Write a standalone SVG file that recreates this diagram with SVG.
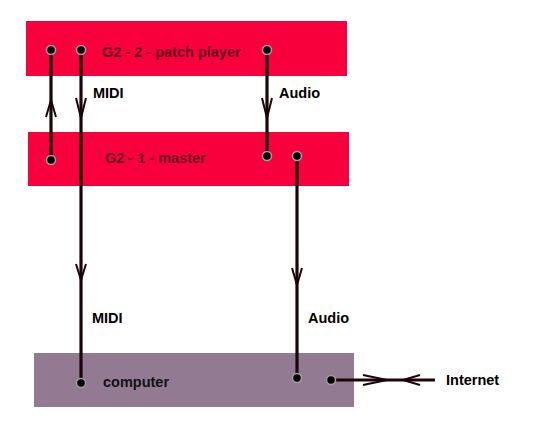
<svg xmlns="http://www.w3.org/2000/svg" width="538" height="435" viewBox="0 0 538 435">
<style>
.lbl{font-family:"Liberation Sans",Arial,sans-serif;font-weight:bold;font-size:14.5px;fill:#000}
.dev{font-family:"Liberation Sans",Arial,sans-serif;font-weight:bold;font-size:14.5px;fill:#6a0a1c}
.ln{stroke:#1a0508;stroke-width:3.2;fill:none}
.chev{stroke:#1a0508;stroke-width:2;fill:none;stroke-linejoin:miter}
.dot{fill:#000;stroke:#a0a0a0;stroke-width:1.5}
</style>
<rect width="538" height="435" fill="#fff"/>
<g id="g2-2"><rect x="26" y="21" width="321" height="55" fill="#f8003c"/><text class="dev" x="102" y="57">G2 - 2 - patch player</text></g>
<g id="g2-1"><rect x="28" y="132" width="321" height="54" fill="#f8003c"/><text class="dev" x="105" y="163">G2 - 1 - master</text></g>
<g id="computer"><rect x="34" y="353" width="320" height="54" fill="#937a93"/><text class="lbl" x="103" y="387" style="fill:#111">computer</text></g>
<g id="internet"><text class="lbl" x="446" y="385">Internet</text></g>
<g id="connectors">
<line class="ln" x1="51" y1="50" x2="51" y2="160"/>
<path class="chev" d="M46 117 L51 100 L56 117"/>
<line class="ln" x1="81" y1="50" x2="81" y2="383"/>
<path class="chev" d="M76 98 L81 118 L86 98"/>
<path class="chev" d="M76 264 L81 280 L86 264"/>
<line class="ln" x1="267" y1="50" x2="267" y2="156"/>
<path class="chev" d="M262 98 L267 118 L272 98"/>
<line class="ln" x1="297" y1="156" x2="297" y2="378"/>
<path class="chev" d="M292 268 L297 285 L302 268"/>
<line class="ln" x1="331" y1="380" x2="435" y2="380"/>
<path class="chev" d="M363 375 L387 380 L363 385"/>
<path class="chev" d="M420 375 L403 380 L420 385"/>
<text class="lbl" x="93" y="98">MIDI</text>
<text class="lbl" x="279" y="98">Audio</text>
<text class="lbl" x="92" y="323">MIDI</text>
<text class="lbl" x="308" y="323">Audio</text>
<circle class="dot" cx="51" cy="50" r="4.5"/>
<circle class="dot" cx="81" cy="50" r="4.5"/>
<circle class="dot" cx="267" cy="50" r="4.5"/>
<circle class="dot" cx="51" cy="160" r="4.5"/>
<circle class="dot" cx="267" cy="156" r="4.5"/>
<circle class="dot" cx="297" cy="156" r="4.5"/>
<circle class="dot" cx="81" cy="383" r="4.5"/>
<circle class="dot" cx="297" cy="378" r="4.5"/>
<circle class="dot" cx="331" cy="380" r="4.5"/>
</g>
</svg>
